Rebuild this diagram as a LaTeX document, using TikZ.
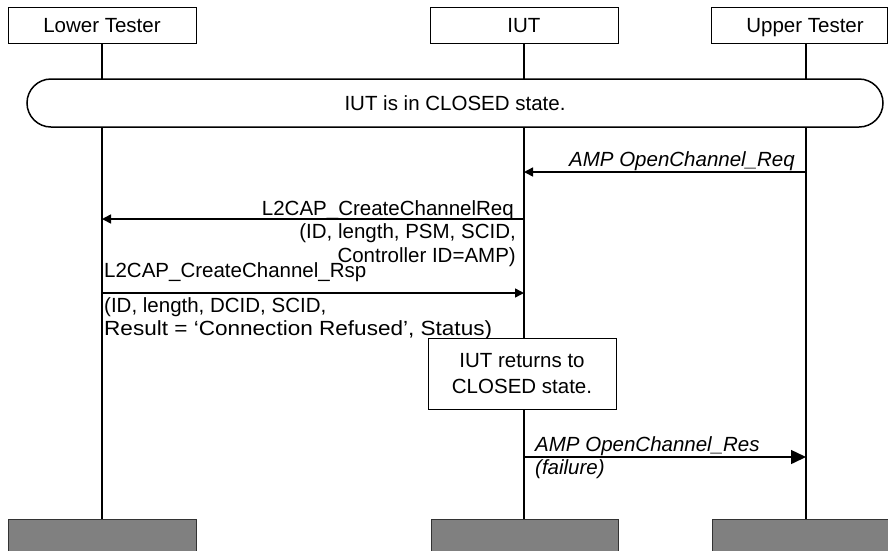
\documentclass[tikz,border=0pt]{standalone}
\usepackage{fontspec}
\setmainfont{Liberation Sans}
\usetikzlibrary{arrows.meta}
\begin{document}
\begin{tikzpicture}[x=1pt,y=-1pt,
  font=\fontsize{20.5}{23}\selectfont,
  hdr/.style={draw,line width=1pt,minimum width=188pt,minimum height=36pt,inner sep=0pt},
  life/.style={line width=2pt},
  msg/.style={line width=1.5pt,-{Triangle[length=9pt,width=9pt]}},
  bigmsg/.style={line width=1.5pt,-{Triangle[length=15pt,width=14pt]}},
  lbl/.style={inner sep=0pt},
  ilbl/.style={inner sep=0pt,font=\fontsize{20.5}{23}\selectfont\itshape},
  foot/.style={draw=black!80,fill=gray,line width=1pt,minimum height=36pt,inner sep=0pt}]
\useasboundingbox (0,0) rectangle (888,550);
% headers
\node[hdr] (lt) at (102,25) {};
\node[lbl,anchor=base] (ltt) at (102,32) {Lower Tester};
\node[hdr] (iut) at (524,25) {};
\node[lbl,anchor=base] (iutt) at (524,32) {IUT};
\node[hdr,minimum width=176pt] (ut) at (799,25) {};
\node[lbl,anchor=base] (utt) at (805,32) {Upper Tester};
% footers
\node[foot,minimum width=188pt] (ltf) at (102,537) {};
\node[foot,minimum width=187pt] (iutf) at (524.5,537) {};
\node[foot,minimum width=183pt] (utf) at (803.5,537) {};
% lifelines
\coordinate (ltx) at (102,43);
\coordinate (iutx) at (524,43);
\coordinate (utx) at (806,43);
\draw[life] (ltx) -- (ltx |- ltf.north);
\draw[life] (iutx) -- (iutx |- iutf.north);
\draw[life] (utx) -- (utx |- utf.north);
% state bar
\node[draw,fill=white,rounded corners=24pt,minimum width=856pt,minimum height=48pt,line width=1.5pt,inner sep=0pt] (bar) at (455,103) {};
\node[lbl,anchor=base] (bart) at (455,110) {IUT is in CLOSED state.};
% message 1
\coordinate (u1) at (806,172);
\coordinate (i1) at (524,172);
\draw[msg] (u1) -- (i1);
\node[ilbl,anchor=base east] (m1) at (795,166) {AMP OpenChannel\_Req};
% message 2
\coordinate (i2) at (524,219);
\coordinate (l2) at (102,219);
\draw[msg] (i2) -- (l2);
\node[lbl,anchor=base east] (m2a) at (514,215) {L2CAP\_CreateChannelReq};
\node[lbl,anchor=base east] (m2b) at (516,238) {(ID, length, PSM, SCID,};
\node[lbl,anchor=base east] (m2c) at (516,262) {Controller ID=AMP)};
% message 3
\coordinate (l3) at (102,293);
\coordinate (i3) at (524,293);
\draw[msg] (l3) -- (i3);
\node[lbl,anchor=base west] (m3a) at (104,277) {L2CAP\_CreateChannel\_Rsp};
\node[lbl,anchor=base west] (m3b) at (104,312) {(ID, length, DCID, SCID,};
\node[lbl,anchor=base west] (m3c) at (104,335) {\scalebox{1.1}[1]{Result = ‘Connection Refused’, Status)}};
% state box
\node[draw,fill=white,line width=1pt,minimum width=188pt,minimum height=71pt,inner sep=0pt] (st) at (522,373.5) {};
\node[lbl,anchor=base] (sta) at (522,367) {IUT returns to};
\node[lbl,anchor=base] (stb) at (522,393) {CLOSED state.};
% message 4
\coordinate (i4) at (524,457);
\coordinate (u4) at (806,457);
\draw[bigmsg] (i4) -- (u4);
\node[ilbl,anchor=base west] (m4a) at (535,451) {AMP OpenChannel\_Res};
\node[ilbl,anchor=base west] (m4b) at (535,474) {(failure)};
\end{tikzpicture}
\end{document}
